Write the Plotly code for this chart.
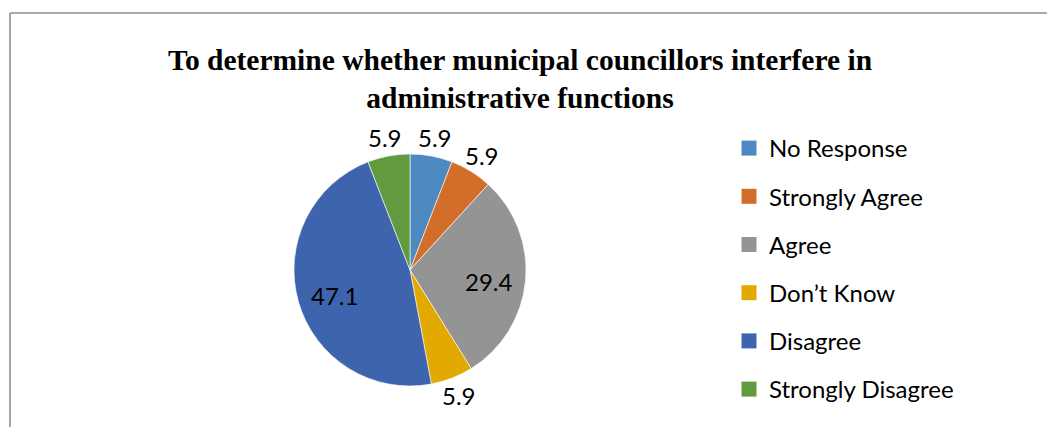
import math
import plotly.graph_objects as go

# Survey responses (percent of respondents)
categories = ["No Response", "Strongly Agree", "Agree", "Don\u2019t Know", "Disagree", "Strongly Disagree"]
percentages = [5.9, 5.9, 29.4, 5.9, 47.1, 5.9]
slice_colors = ["#4E8AC1", "#D36E2A", "#949494", "#E2AA00", "#3D64AC", "#629B3F"]
label_inside = [False, False, True, False, True, False]

W, H = 1047, 427
CX, CY, R = 410, 270, 116          # pie centre and radius in pixels
LABEL_FONT = "Lato, 'Open Sans', sans-serif"
LABEL_SIZE = 24

fig = go.Figure()

fig.add_trace(go.Pie(
    labels=categories,
    values=percentages,
    sort=False,
    direction="clockwise",
    rotation=0,
    marker=dict(colors=slice_colors, line=dict(color="white", width=0.6)),
    textinfo="none",
    domain=dict(x=[(CX - R) / W, (CX + R) / W], y=[(H - CY - R) / H, (H - CY + R) / H]),
    showlegend=False,
    hoverinfo="label+value",
))

# Data labels: placed along each slice's mid-angle (clockwise from 12 o'clock)
total = sum(percentages)
cum = 0.0
for val, inside in zip(percentages, label_inside):
    mid = (cum + val / 2) / total * 2 * math.pi
    cum += val
    sx, sy = math.sin(mid), -math.cos(mid)
    if inside:
        dist = 0.68 * R
        px, py = CX + sx * dist, CY + sy * dist + 4
    else:
        dist = R + 8
        px = CX + sx * dist + sx * 12
        py = CY + sy * dist + sy * 11
    fig.add_annotation(
        x=px / W, y=1 - py / H, xref="paper", yref="paper",
        xanchor="center", yanchor="middle", showarrow=False,
        text=f"{val}",
        font=dict(family=LABEL_FONT, size=LABEL_SIZE, color="#000000"),
    )

# Legend entries, one group per category so the rows can be spaced apart
for name, color in zip(categories, slice_colors):
    fig.add_trace(go.Scatter(
        x=[None], y=[None], mode="markers", name=name,
        legendgroup=name,
        marker=dict(symbol="square", size=15, color=color),
    ))

fig.update_layout(
    width=W, height=H,
    margin=dict(l=0, r=0, t=0, b=0),
    paper_bgcolor="white",
    plot_bgcolor="white",
    xaxis=dict(visible=False),
    yaxis=dict(visible=False),
    title=dict(
        text="<b>To determine whether municipal councillors interfere in<br>administrative functions</b>",
        x=520 / W, xanchor="center",
        y=1 - 70 / H, yanchor="middle",
        font=dict(family="'Times New Roman', 'Liberation Serif', serif", size=29.5, color="#000000"),
    ),
    legend=dict(
        x=729 / W, xanchor="left",
        y=1 - 126 / H, yanchor="top",
        font=dict(family=LABEL_FONT, size=LABEL_SIZE, color="#000000"),
        tracegroupgap=14,
        itemwidth=30,
        bgcolor="rgba(0,0,0,0)",
    ),
    shapes=[
        dict(type="line", xref="paper", yref="paper",
             x0=10 / W, x1=10 / W, y0=0, y1=1 - 13 / H,
             line=dict(color="#A6A6A6", width=2)),
        dict(type="line", xref="paper", yref="paper",
             x0=10 / W, x1=1, y0=1 - 13 / H, y1=1 - 13 / H,
             line=dict(color="#8C8C8C", width=1.5)),
    ],
)

fig.write_html("out.html")
